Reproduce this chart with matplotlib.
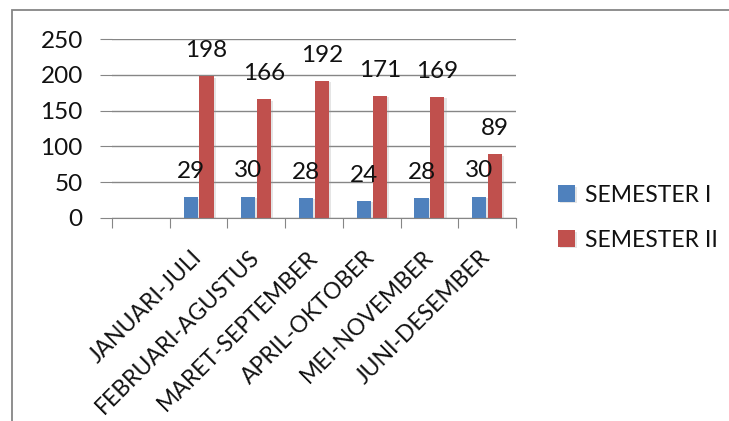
import numpy as np
import matplotlib
matplotlib.use('Agg')
import matplotlib.pyplot as plt
import matplotlib.patheffects as pe
from matplotlib.patches import Rectangle

plt.rcParams['font.family'] = ['Lato', 'DejaVu Sans']

# data: the first slot of the category axis is empty
kategori = ['', 'JANUARI-JULI', 'FEBRUARI-AGUSTUS', 'MARET-SEPTEMBER',
            'APRIL-OKTOBER', 'MEI-NOVEMBER', 'JUNI-DESEMBER']
semester_1 = [np.nan, 29, 30, 28, 24, 28, 30]
semester_2 = [np.nan, 198, 166, 192, 171, 169, 89]
y_ticks = [0, 50, 100, 150, 200, 250]

BIRU = '#4F81BD'
MERAH = '#C0504D'
ABU = '#868686'
TEKS = '#111111'

W, H = 729, 421
fig = plt.figure(figsize=(W / 100, H / 100), dpi=100)
fig.patch.set_facecolor('white')

# outer chart frame (runs off the right and bottom edges)
fig.patches.append(Rectangle((12 / W, -0.05), 1.2, 1.05 - 10 / H,
                             transform=fig.transFigure, fill=False,
                             edgecolor=ABU, lw=1.3))

ax = fig.add_axes([112 / W, 1 - 218 / H, (516 - 112) / W, (218 - 39) / H])

x = np.arange(len(kategori))
lebar = 0.245
geser = 0.138
shadow = [pe.SimplePatchShadow(offset=(1.5, -1), alpha=0.25, shadow_rgbFace='#999999'),
          pe.Normal()]
b1 = ax.bar(x - geser, semester_1, lebar, color=BIRU, label='SEMESTER I',
            path_effects=shadow, zorder=3)
b2 = ax.bar(x + geser, semester_2, lebar, color=MERAH, label='SEMESTER II',
            path_effects=shadow, zorder=3)

for bars, vals in ((b1, semester_1), (b2, semester_2)):
    for rect, v in zip(bars, vals):
        if np.isnan(v):
            continue
        ax.annotate(f'{v:d}', (rect.get_x() + rect.get_width() / 2, v),
                    xytext=(0, 13.7), textcoords='offset points',
                    ha='center', va='baseline', fontsize=17.5, color=TEKS,
                    zorder=4)

ax.set_xlim(-0.5, len(kategori) - 0.5)
ax.set_ylim(0, 250)
ax.set_yticks(y_ticks)
ax.yaxis.grid(True, color=ABU, lw=1)
ax.set_axisbelow(True)

for s in ['left', 'right', 'top']:
    ax.spines[s].set_visible(False)
ax.spines['bottom'].set_color(ABU)
ax.spines['bottom'].set_zorder(5)

ax.tick_params(axis='y', length=9, color=ABU, labelsize=17.5, pad=12,
               labelcolor=TEKS)

# tick marks between categories, labels at the centres
ax.set_xticks(np.arange(len(kategori) + 1) - 0.5)
ax.set_xticklabels([])
ax.tick_params(axis='x', which='major', length=7, color=ABU)
ax.set_xticks(x, minor=True)
ax.set_xticklabels(kategori, minor=True, rotation=45, ha='right',
                   rotation_mode='anchor', fontsize=16.5, color=TEKS)
ax.tick_params(axis='x', which='minor', length=0, pad=26)
for lbl in ax.get_xticklabels(minor=True):
    lbl.set_va('center')

fig.legend(handles=[b1, b2], loc='upper left',
           bbox_to_anchor=(537 / W, 1 - 164 / H), frameon=False,
           fontsize=16.5, handlelength=0.75, handleheight=0.75,
           handletextpad=0.45, labelspacing=1.05, labelcolor=TEKS)

fig.savefig('out.png', dpi=100, facecolor='white')
